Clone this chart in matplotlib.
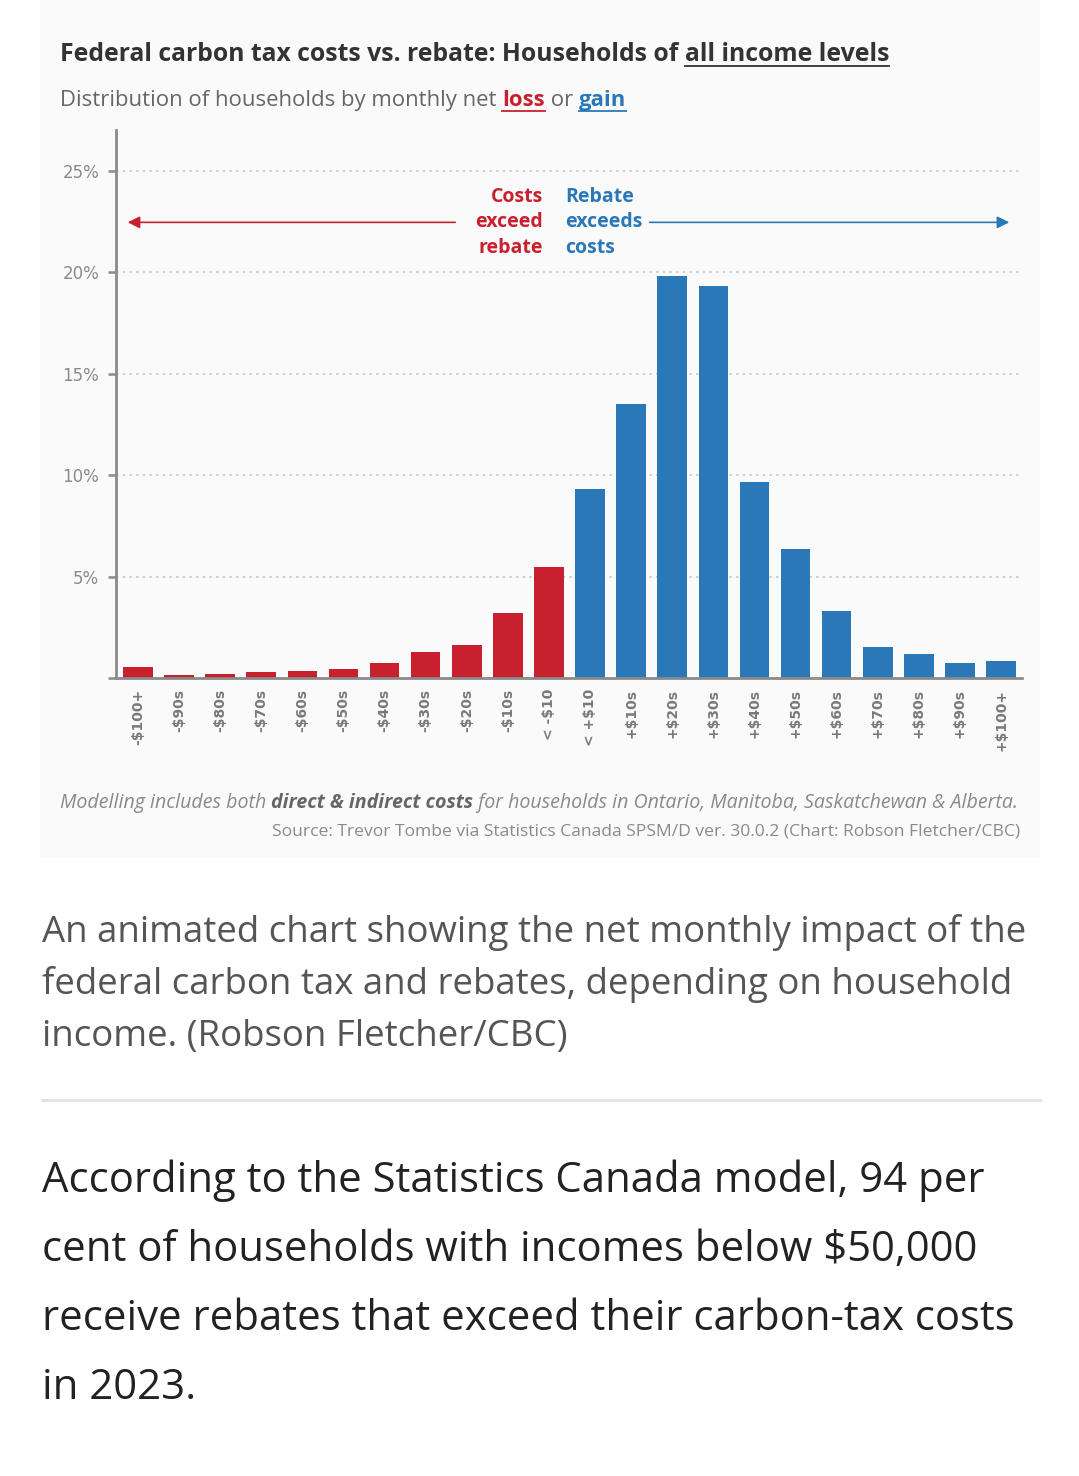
import matplotlib.pyplot as plt
from matplotlib.patches import Rectangle
from matplotlib.lines import Line2D

# data
categories = ["-$100+", "-$90s", "-$80s", "-$70s", "-$60s", "-$50s", "-$40s", "-$30s",
              "-$20s", "-$10s", "< -$10", "< +$10", "+$10s", "+$20s", "+$30s", "+$40s",
              "+$50s", "+$60s", "+$70s", "+$80s", "+$90s", "+$100+"]
shares = [0.55, 0.15, 0.2, 0.3, 0.35, 0.45, 0.75, 1.3, 1.65, 3.2, 5.45,
          9.3, 13.5, 19.8, 19.3, 9.65, 6.35, 3.3, 1.55, 1.2, 0.75, 0.85]
is_gain = [False] * 11 + [True] * 11
yticks = [0, 5, 10, 15, 20, 25]
ytick_labels = ["", "5%", "10%", "15%", "20%", "25%"]

RED = "#c8202e"
BLUE = "#2a78b8"
GRAY = "#8a8a8a"

W, H = 1079, 1476
fig = plt.figure(figsize=(W / 100, H / 100), dpi=100)
fig.patch.set_facecolor("white")
fig.patches.append(Rectangle((40 / W, 1 - 858 / H), 1000 / W, 858 / H,
                             transform=fig.transFigure, facecolor="#fafafa",
                             edgecolor="none", zorder=-5))

ax = fig.add_axes([116 / W, 1 - 678 / H, (1022 - 116) / W, (678 - 130) / H])
ax.set_facecolor("none")
ax.set_zorder(2)

x = list(range(len(categories)))
colors = [BLUE if g else RED for g in is_gain]
ax.bar(x, shares, width=0.72, color=colors, zorder=3)

ax.set_xlim(-0.535, 21.51)
ax.set_ylim(0, 27)
ax.set_yticks(yticks)
ax.set_yticklabels(ytick_labels)
ax.set_xticks(x)
ax.set_xticklabels(categories, rotation=90, va="top", ha="center")
for g in [5, 10, 15, 20, 25]:
    ax.axhline(g, color="#c8c8c8", lw=1.2, ls=(0, (1.5, 2.5)), zorder=1)

ax.tick_params(axis="y", length=6, width=1.8, color=GRAY, labelsize=12,
               labelcolor=GRAY, pad=6)
ax.tick_params(axis="x", length=0, labelsize=10, labelcolor="#7a7a7a", pad=8)
for lab in ax.get_xticklabels():
    lab.set_fontweight("bold")
for s in ["top", "right"]:
    ax.spines[s].set_visible(False)
for s in ["left", "bottom"]:
    ax.spines[s].set_color(GRAY)
    ax.spines[s].set_linewidth(2)
ax.spines["bottom"].set_zorder(4)

# direction annotations
ay = 22.45
ax.annotate("", xy=(-0.25, ay), xytext=(7.72, ay),
            arrowprops=dict(arrowstyle="-|>", color=RED, lw=1.2,
                            mutation_scale=18, shrinkA=0, shrinkB=0))
ax.annotate("", xy=(21.2, ay), xytext=(12.45, ay),
            arrowprops=dict(arrowstyle="-|>", color=BLUE, lw=1.2,
                            mutation_scale=18, shrinkA=0, shrinkB=0))
ax.text(9.85, ay, "Costs\nexceed\nrebate", color=RED, fontsize=14,
        fontweight="bold", ha="right", va="center", linespacing=1.38,
        family="Open Sans")
ax.text(10.4, ay, "Rebate\nexceeds\ncosts", color=BLUE, fontsize=14,
        fontweight="bold", ha="left", va="center", linespacing=1.38,
        family="Open Sans")

renderer = fig.canvas.get_renderer()


def runs(x0, y0, pieces, size, family="Open Sans"):
    # place text pieces one after another on one line (pixel coords)
    xp = x0
    for txt, color, weight, style, underline in pieces:
        t = fig.text(xp / W, 1 - y0 / H, txt, color=color, fontsize=size,
                     fontweight=weight, style=style, family=family,
                     va="baseline", ha="left")
        bb = t.get_window_extent(renderer)
        if underline:
            uy = 1 - (y0 + size * 0.3) / H
            fig.add_artist(Line2D([bb.x0 / W, bb.x1 / W], [uy, uy], color=color,
                                  lw=1.3, transform=fig.transFigure))
        xp = bb.x1


runs(60, 61, [("Federal carbon tax costs vs. rebate: Households of ", "#333333", "bold", "normal", False),
              ("all income levels", "#333333", "bold", "normal", True)], 17.8)
runs(60, 106, [("Distribution of households by monthly net ", "#666666", "normal", "normal", False),
               ("loss", RED, "bold", "normal", True),
               (" or ", "#666666", "normal", "normal", False),
               ("gain", BLUE, "bold", "normal", True)], 15.95)

runs(60, 808, [("Modelling includes both ", GRAY, "normal", "italic", False),
               ("direct & indirect costs", "#666666", "bold", "italic", False),
               (" for households in Ontario, Manitoba, Saskatchewan & Alberta.", GRAY, "normal", "italic", False)],
     14.1)
fig.text(1020 / W, 1 - 836 / H,
         "Source: Trevor Tombe via Statistics Canada SPSM/D ver. 30.0.2 (Chart: Robson Fletcher/CBC)",
         color=GRAY, fontsize=12.6, ha="right", va="baseline", family="Open Sans")

para1 = ["An animated chart showing the net monthly impact of the",
         "federal carbon tax and rebates, depending on household",
         "income. (Robson Fletcher/CBC)"]
for i, line in enumerate(para1):
    fig.text(42 / W, 1 - (942 + i * 52) / H, line, color="#555555", fontsize=26.4,
             family="Open Sans", ha="left", va="baseline")

fig.add_artist(Line2D([42 / W, 1040 / W], [1 - 1100 / H, 1 - 1100 / H],
                      color="#e2e2e2", lw=2, transform=fig.transFigure))

para2 = ["According to the Statistics Canada model, 94 per",
         "cent of households with incomes below $50,000",
         "receive rebates that exceed their carbon-tax costs",
         "in 2023."]
for i, line in enumerate(para2):
    fig.text(42 / W, 1 - (1192 + i * 69) / H, line, color="#222222", fontsize=30.2,
             family="Open Sans", ha="left", va="baseline")

fig.savefig("out.png", dpi=100)
